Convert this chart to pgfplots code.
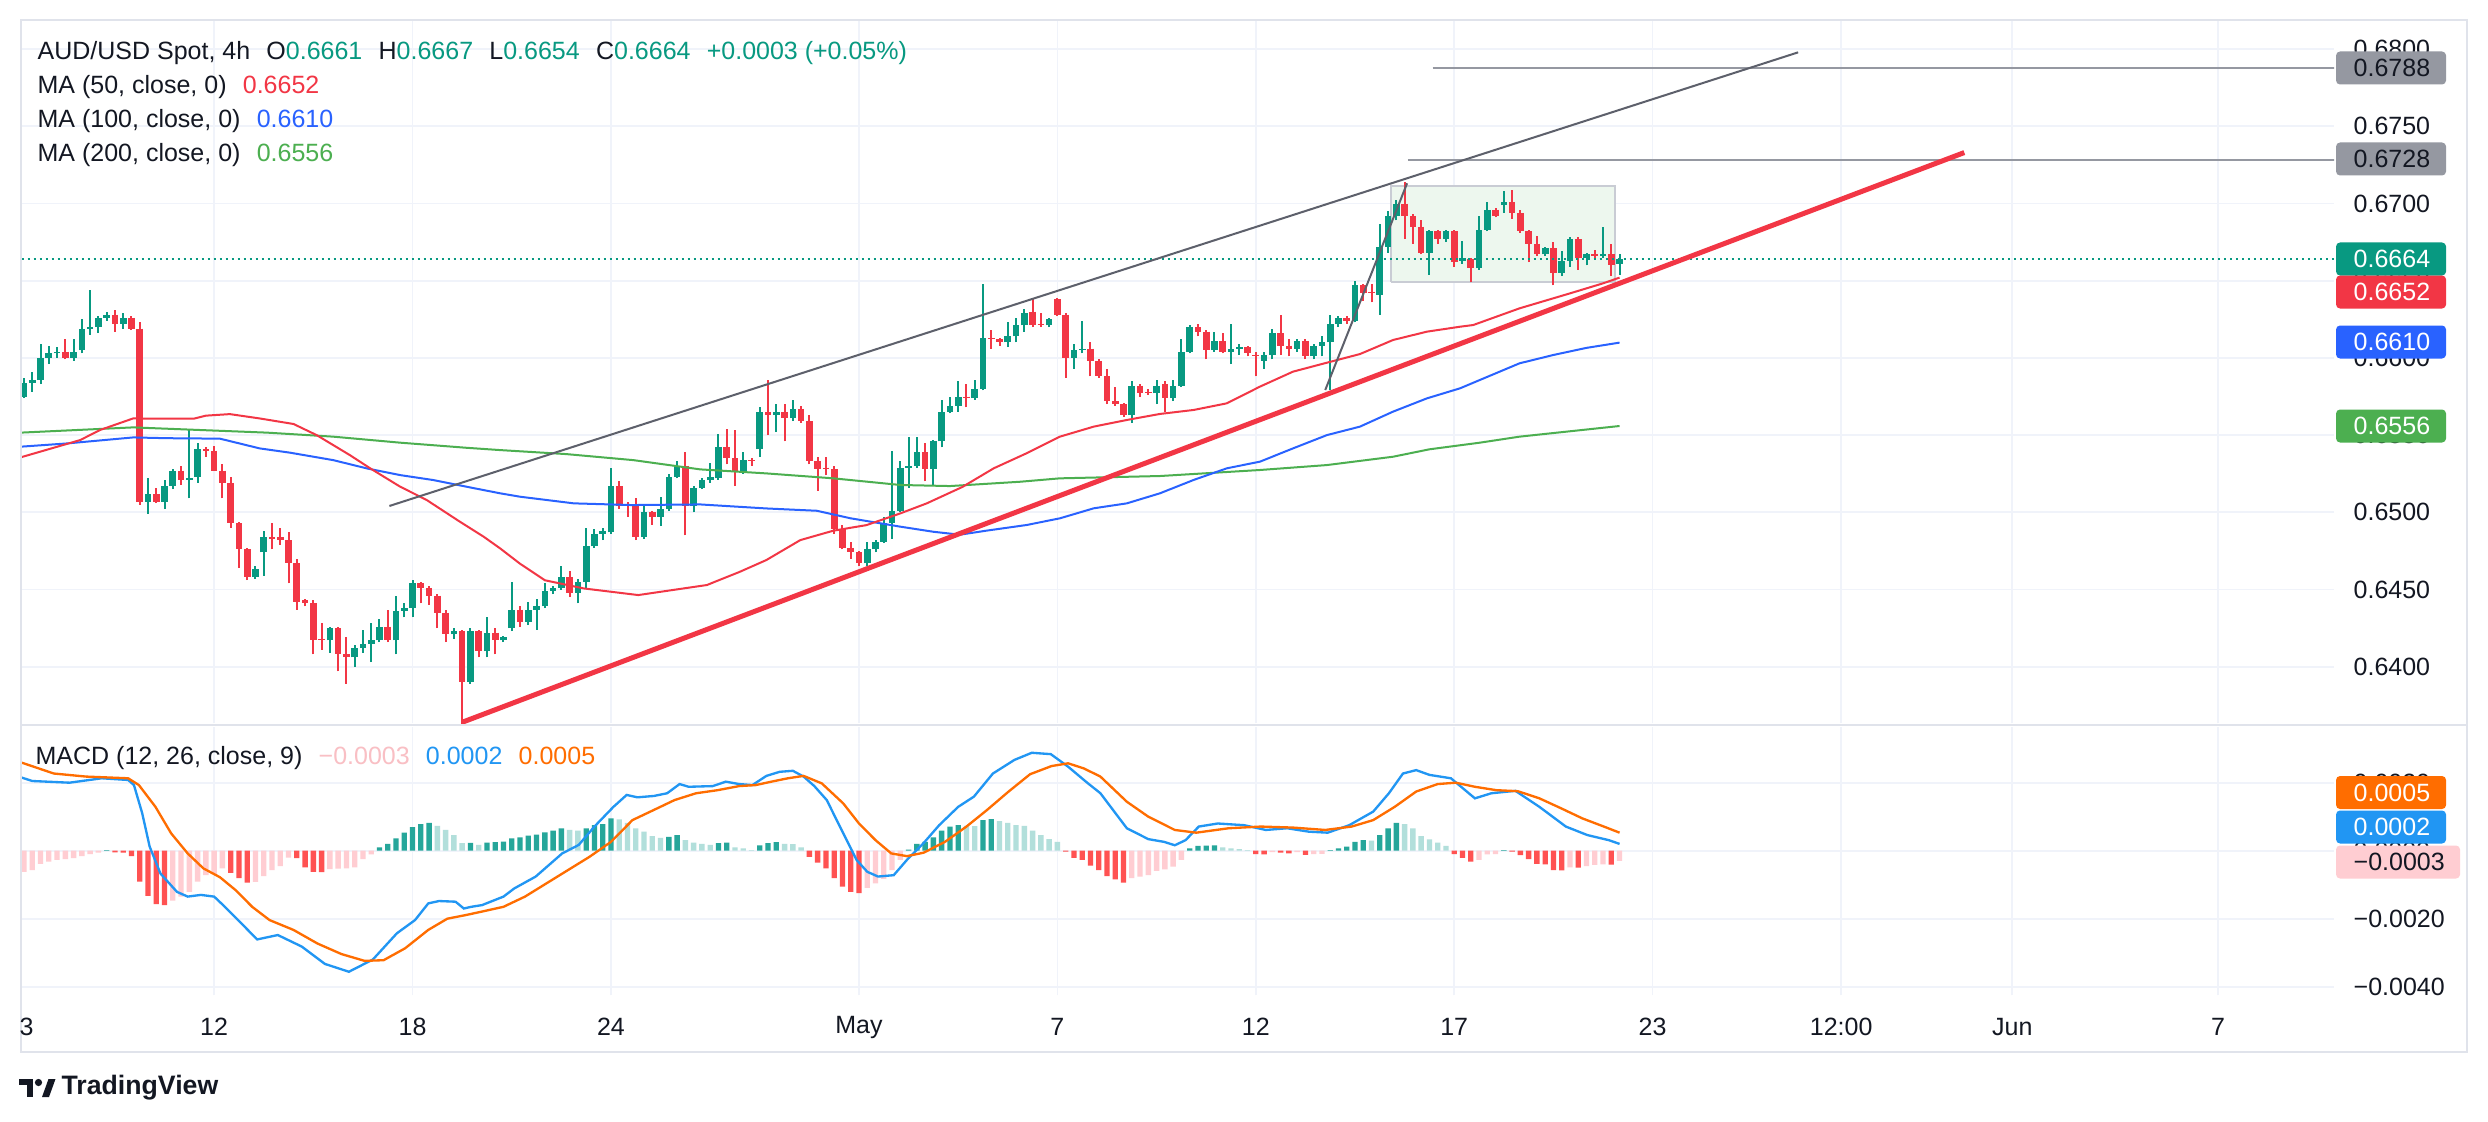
\documentclass[border=0pt]{standalone}
\usepackage{fontspec}
\setmainfont{Liberation Sans}
\usepackage{pgfplots}
\pgfplotsset{compat=1.18}
\usepackage{pgfplotstable}

\definecolor{up}{HTML}{089981}
\definecolor{dn}{HTML}{F23645}
\definecolor{ma50}{HTML}{F23645}
\definecolor{ma100}{HTML}{2962FF}
\definecolor{ma200}{HTML}{4CAF50}
\definecolor{gridc}{HTML}{F0F3FA}
\definecolor{framec}{HTML}{E0E3EB}
\definecolor{txt}{HTML}{131722}
\definecolor{graylbl}{HTML}{9598A1}
\definecolor{chan}{HTML}{5D606B}
\definecolor{macdc}{HTML}{2196F3}
\definecolor{sigc}{HTML}{FF6D00}
\definecolor{hgA}{HTML}{26A69A}
\definecolor{hgB}{HTML}{B2DFDB}
\definecolor{hrA}{HTML}{FF5252}
\definecolor{hrB}{HTML}{FFCDD2}
\definecolor{pinktxt}{HTML}{F9BFC4}
\definecolor{rectfill}{HTML}{EDF7EE}
\definecolor{rectdraw}{HTML}{C9CCD4}

\newcommand\fs{\fontsize{7.5}{9}\selectfont}

\pgfplotstableread{
n o h l c
0 0.6575 0.6587 0.6574 0.6584
1 0.6584 0.6591 0.6578 0.6586
2 0.6586 0.6609 0.6583 0.6600
3 0.6600 0.6608 0.6596 0.6603
4 0.6603 0.6607 0.6600 0.6604
5 0.6604 0.6612 0.6599 0.6600
6 0.6600 0.6612 0.6598 0.6604
7 0.6605 0.6625 0.6603 0.6619
8 0.6619 0.6644 0.6615 0.6620
9 0.6620 0.6627 0.6616 0.6626
10 0.6626 0.6630 0.6624 0.6628
11 0.6628 0.6631 0.6617 0.6622
12 0.6622 0.6629 0.6619 0.6626
13 0.6626 0.6627 0.6618 0.6619
14 0.6619 0.6623 0.6505 0.6507
15 0.6507 0.6522 0.6499 0.6512
16 0.6512 0.6516 0.6506 0.6507
17 0.6507 0.6521 0.6502 0.6517
18 0.6517 0.6528 0.6515 0.6527
19 0.6527 0.6530 0.6518 0.6521
20 0.6521 0.6553 0.6509 0.6522
21 0.6523 0.6545 0.6519 0.6541
22 0.6541 0.6542 0.6536 0.6540
23 0.6540 0.6543 0.6527 0.6527
24 0.6527 0.6531 0.6509 0.6519
25 0.6519 0.6523 0.6490 0.6493
26 0.6493 0.6494 0.6464 0.6476
27 0.6476 0.6477 0.6456 0.6458
28 0.6458 0.6465 0.6457 0.6463
29 0.6474 0.6488 0.6459 0.6484
30 0.6484 0.6493 0.6476 0.6483
31 0.6484 0.6490 0.6479 0.6482
32 0.6482 0.6487 0.6454 0.6467
33 0.6467 0.6470 0.6437 0.6442
34 0.6443 0.6444 0.6439 0.6441
35 0.6441 0.6443 0.6408 0.6417
36 0.6418 0.6428 0.6411 0.6417
37 0.6417 0.6426 0.6409 0.6425
38 0.6425 0.6426 0.6397 0.6408
39 0.6408 0.6419 0.6389 0.6406
40 0.6406 0.6414 0.6400 0.6412
41 0.6412 0.6424 0.6409 0.6415
42 0.6415 0.6428 0.6403 0.6417
43 0.6417 0.6431 0.6416 0.6426
44 0.6426 0.6437 0.6416 0.6417
45 0.6417 0.6446 0.6408 0.6436
46 0.6436 0.6441 0.6432 0.6438
47 0.6438 0.6456 0.6432 0.6454
48 0.6454 0.6455 0.6441 0.6451
49 0.6451 0.6452 0.6440 0.6446
50 0.6446 0.6447 0.6425 0.6435
51 0.6435 0.6437 0.6416 0.6421
52 0.6421 0.6425 0.6418 0.6423
53 0.6423 0.6424 0.6363 0.6390
54 0.6390 0.6425 0.6389 0.6423
55 0.6423 0.6424 0.6406 0.6410
56 0.6410 0.6432 0.6406 0.6422
57 0.6422 0.6425 0.6408 0.6417
58 0.6417 0.6420 0.6416 0.6419
59 0.6425 0.6455 0.6423 0.6437
60 0.6437 0.6439 0.6426 0.6429
61 0.6429 0.6442 0.6427 0.6437
62 0.6437 0.6444 0.6424 0.6439
63 0.6439 0.6454 0.6438 0.6449
64 0.6449 0.6452 0.6447 0.6451
65 0.6451 0.6465 0.6450 0.6458
66 0.6458 0.6462 0.6445 0.6448
67 0.6448 0.6457 0.6441 0.6455
68 0.6455 0.6490 0.6451 0.6478
69 0.6478 0.6489 0.6477 0.6486
70 0.6486 0.6490 0.6482 0.6488
71 0.6487 0.6529 0.6486 0.6517
72 0.6517 0.6520 0.6502 0.6504
73 0.6505 0.6507 0.6497 0.6504
74 0.6504 0.6509 0.6482 0.6484
75 0.6484 0.6504 0.6483 0.6500
76 0.6500 0.6501 0.6492 0.6497
77 0.6497 0.6510 0.6491 0.6502
78 0.6502 0.6525 0.6501 0.6523
79 0.6523 0.6533 0.6522 0.6530
80 0.6530 0.6539 0.6485 0.6504
81 0.6504 0.6517 0.6500 0.6516
82 0.6516 0.6522 0.6515 0.6521
83 0.6521 0.6532 0.6519 0.6523
84 0.6522 0.6551 0.6521 0.6542
85 0.6542 0.6554 0.6531 0.6535
86 0.6535 0.6553 0.6517 0.6526
87 0.6526 0.6539 0.6525 0.6534
88 0.6534 0.6535 0.6530 0.6533
89 0.6541 0.6568 0.6536 0.6565
90 0.6565 0.6586 0.6550 0.6563
91 0.6563 0.6570 0.6552 0.6565
92 0.6565 0.6570 0.6546 0.6561
93 0.6561 0.6573 0.6559 0.6567
94 0.6567 0.6569 0.6558 0.6559
95 0.6559 0.6563 0.6531 0.6533
96 0.6533 0.6536 0.6514 0.6528
97 0.6529 0.6536 0.6524 0.6528
98 0.6528 0.6530 0.6486 0.6489
99 0.6489 0.6492 0.6476 0.6477
100 0.6477 0.6481 0.6470 0.6474
101 0.6474 0.6475 0.6465 0.6467
102 0.6467 0.6481 0.6465 0.6476
103 0.6476 0.6482 0.6474 0.6481
104 0.6481 0.6497 0.6480 0.6493
105 0.6493 0.6540 0.6483 0.6501
106 0.6501 0.6533 0.6500 0.6529
107 0.6529 0.6549 0.6516 0.6530
108 0.6530 0.6549 0.6529 0.6539
109 0.6539 0.6545 0.6520 0.6528
110 0.6528 0.6547 0.6517 0.6546
111 0.6546 0.6573 0.6542 0.6565
112 0.6565 0.6575 0.6564 0.6569
113 0.6569 0.6585 0.6565 0.6575
114 0.6575 0.6583 0.6568 0.6574
115 0.6574 0.6586 0.6573 0.6580
116 0.6580 0.6648 0.6579 0.6613
117 0.6613 0.6618 0.6606 0.6612
118 0.6612 0.6613 0.6608 0.6610
119 0.6610 0.6623 0.6607 0.6614
120 0.6614 0.6626 0.6610 0.6621
121 0.6621 0.6632 0.6617 0.6629
122 0.6630 0.6638 0.6620 0.6621
123 0.6622 0.6629 0.6620 0.6621
124 0.6621 0.6626 0.6620 0.6625
125 0.6638 0.6639 0.6627 0.6628
126 0.6628 0.6629 0.6587 0.6600
127 0.6600 0.6609 0.6593 0.6605
128 0.6605 0.6624 0.6603 0.6606
129 0.6606 0.6610 0.6588 0.6598
130 0.6598 0.6599 0.6587 0.6588
131 0.6588 0.6593 0.6570 0.6572
132 0.6572 0.6581 0.6569 0.6570
133 0.6570 0.6571 0.6562 0.6563
134 0.6563 0.6585 0.6558 0.6582
135 0.6582 0.6583 0.6575 0.6577
136 0.6578 0.6580 0.6576 0.6577
137 0.6577 0.6586 0.6570 0.6582
138 0.6583 0.6585 0.6565 0.6574
139 0.6574 0.6586 0.6572 0.6582
140 0.6582 0.6612 0.6581 0.6604
141 0.6604 0.6621 0.6603 0.6620
142 0.6620 0.6622 0.6614 0.6617
143 0.6617 0.6618 0.6599 0.6605
144 0.6605 0.6617 0.6604 0.6611
145 0.6611 0.6616 0.6603 0.6604
146 0.6604 0.6622 0.6596 0.6606
147 0.6606 0.6609 0.6602 0.6607
148 0.6607 0.6608 0.6601 0.6603
149 0.6602 0.6604 0.6588 0.6601
150 0.6598 0.6604 0.6593 0.6602
151 0.6602 0.6619 0.6599 0.6616
152 0.6616 0.6628 0.6602 0.6608
153 0.6608 0.6612 0.6601 0.6606
154 0.6606 0.6612 0.6604 0.6611
155 0.6611 0.6612 0.6599 0.6601
156 0.6601 0.6609 0.6599 0.6608
157 0.6608 0.6614 0.6601 0.6610
158 0.6610 0.6628 0.6579 0.6622
159 0.6622 0.6627 0.6620 0.6626
160 0.6626 0.6627 0.6622 0.6624
161 0.6624 0.6650 0.6623 0.6647
162 0.6647 0.6648 0.6637 0.6642
163 0.6643 0.6648 0.6636 0.6642
164 0.6641 0.6687 0.6628 0.6672
165 0.6672 0.6695 0.6668 0.6692
166 0.6692 0.6702 0.6689 0.6700
167 0.6700 0.6714 0.6677 0.6692
168 0.6692 0.6693 0.6674 0.6685
169 0.6685 0.6689 0.6667 0.6668
170 0.6668 0.6683 0.6654 0.6682
171 0.6682 0.6683 0.6674 0.6677
172 0.6677 0.6683 0.6675 0.6682
173 0.6682 0.6683 0.6659 0.6662
174 0.6663 0.6676 0.6661 0.6665
175 0.6664 0.6665 0.6649 0.6658
176 0.6658 0.6692 0.6657 0.6683
177 0.6683 0.6701 0.6682 0.6696
178 0.6696 0.6697 0.6691 0.6692
179 0.6699 0.6708 0.6694 0.6701
180 0.6701 0.6709 0.6690 0.6694
181 0.6694 0.6696 0.6681 0.6682
182 0.6682 0.6683 0.6662 0.6674
183 0.6674 0.6679 0.6666 0.6667
184 0.6667 0.6672 0.6666 0.6671
185 0.6671 0.6675 0.6647 0.6655
186 0.6655 0.6669 0.6653 0.6663
187 0.6663 0.6678 0.6659 0.6677
188 0.6677 0.6678 0.6657 0.6665
189 0.6665 0.6668 0.6660 0.6667
190 0.6667 0.6670 0.6664 0.6666
191 0.6666 0.6685 0.6665 0.6667
192 0.6667 0.6674 0.6653 0.6660
193 0.6661 0.6667 0.6654 0.6664
}\candles

\pgfplotstableread{
n h k
0 -0.00062 4
1 -0.00057 4
2 -0.00039 4
3 -0.00032 4
4 -0.00027 4
5 -0.00025 4
6 -0.00022 4
7 -0.00016 4
8 -0.00010 4
9 -0.00006 4
10 0.00002 1
11 -0.00005 3
12 -0.00006 3
13 -0.00016 3
14 -0.00091 3
15 -0.00133 3
16 -0.00157 3
17 -0.00160 3
18 -0.00147 4
19 -0.00135 4
20 -0.00121 4
21 -0.00091 4
22 -0.00072 4
23 -0.00069 4
24 -0.00052 4
25 -0.00065 3
26 -0.00081 3
27 -0.00094 3
28 -0.00092 4
29 -0.00075 4
30 -0.00057 4
31 -0.00045 4
32 -0.00020 4
33 -0.00022 3
34 -0.00049 3
35 -0.00062 3
36 -0.00063 3
37 -0.00054 4
38 -0.00053 4
39 -0.00052 4
40 -0.00049 4
41 -0.00025 4
42 -0.00011 4
43 0.00010 1
44 0.00020 1
45 0.00036 1
46 0.00053 1
47 0.00069 1
48 0.00078 1
49 0.00082 1
50 0.00073 2
51 0.00061 2
52 0.00046 2
53 0.00022 2
54 0.00023 1
55 0.00017 2
56 0.00024 1
57 0.00025 1
58 0.00027 1
59 0.00036 1
60 0.00039 1
61 0.00044 1
62 0.00047 1
63 0.00054 1
64 0.00059 1
65 0.00066 1
66 0.00061 2
67 0.00059 2
68 0.00066 1
69 0.00075 1
70 0.00078 1
71 0.00095 1
72 0.00092 2
73 0.00082 2
74 0.00066 2
75 0.00056 2
76 0.00043 2
77 0.00038 2
78 0.00041 1
79 0.00046 1
80 0.00031 2
81 0.00024 2
82 0.00020 2
83 0.00017 2
84 0.00022 1
85 0.00024 1
86 0.00010 2
87 0.00007 2
88 0.00002 2
89 0.00016 1
90 0.00022 1
91 0.00025 1
92 0.00020 2
93 0.00019 2
94 0.00010 2
95 -0.00018 3
96 -0.00035 3
97 -0.00052 3
98 -0.00081 3
99 -0.00106 3
100 -0.00121 3
101 -0.00125 3
102 -0.00109 4
103 -0.00096 4
104 -0.00083 4
105 -0.00057 4
106 -0.00027 4
107 0.00003 1
108 0.00020 1
109 0.00026 1
110 0.00039 1
111 0.00059 1
112 0.00071 1
113 0.00075 1
114 0.00073 2
115 0.00072 2
116 0.00090 1
117 0.00093 1
118 0.00087 2
119 0.00082 2
120 0.00075 2
121 0.00073 2
122 0.00059 2
123 0.00046 2
124 0.00034 2
125 0.00026 2
126 -0.00003 3
127 -0.00021 3
128 -0.00027 3
129 -0.00044 3
130 -0.00057 3
131 -0.00075 3
132 -0.00084 3
133 -0.00094 3
134 -0.00081 4
135 -0.00076 4
136 -0.00072 4
137 -0.00059 4
138 -0.00055 4
139 -0.00047 4
140 -0.00027 4
141 0.00007 1
142 0.00014 1
143 0.00015 1
144 0.00016 1
145 0.00010 2
146 0.00007 2
147 0.00005 2
148 0.00002 2
149 -0.00010 3
150 -0.00011 3
151 -0.00004 4
152 -0.00006 3
153 -0.00008 3
154 -0.00004 4
155 -0.00012 3
156 -0.00010 4
157 -0.00009 4
158 0.00002 1
159 0.00007 1
160 0.00012 1
161 0.00026 1
162 0.00031 1
163 0.00030 2
164 0.00046 1
165 0.00066 1
166 0.00082 1
167 0.00078 2
168 0.00066 2
169 0.00043 2
170 0.00033 2
171 0.00024 2
172 0.00014 2
173 -0.00010 3
174 -0.00021 3
175 -0.00032 3
176 -0.00027 4
177 -0.00011 4
178 -0.00010 4
179 0.00002 1
180 -0.00003 3
181 -0.00013 3
182 -0.00025 3
183 -0.00039 3
184 -0.00040 3
185 -0.00057 3
186 -0.00058 3
187 -0.00049 4
188 -0.00050 3
189 -0.00045 4
190 -0.00042 4
191 -0.00040 4
192 -0.00041 3
193 -0.00030 4
}\hist

\pgfplotsset{
  tvaxis/.style={
    scale only axis, width=693.9pt,
    xmin=-0.363, xmax=279.42,
    axis line style={draw=none},
    major tick length=0pt, tick style={draw=none},
    xtick={23,47,71,101,125,149,173,197,219.8,240.5,265.4},
    grid=major, major grid style={gridc, line width=0.5pt},
    ticklabel style={font=\fs, text=txt},
    yticklabel pos=right,
    yticklabel style={anchor=west, inner sep=0pt, xshift=5.7pt},
    scaled y ticks=false, scaled x ticks=false,
    clip=true,
  }
}

\begin{document}
\begin{tikzpicture}
\path[use as bounding box, fill=white] (0,0) rectangle (746.4pt,-336.6pt);

% ---------------- price panel ----------------
\begin{axis}[tvaxis,
  at={(6.3pt,-216.9pt)}, anchor=south west, height=210.9pt,
  ymin=0.636354, ymax=0.681885,
  xticklabels={},
  ytick={0.640,0.645,0.650,0.655,0.660,0.665,0.670,0.675,0.680},
  yticklabels={0.6400,0.6450,0.6500,0.6550,0.6600,0.6650,0.6700,0.6750,0.6800},
]
% rectangle drawing
\addplot[fill=rectfill, draw=rectdraw, line width=0.6pt] coordinates {(165.3,0.66492) (192.5,0.66492) (192.5,0.67115) (165.3,0.67115) (165.3,0.66492)};

% candles: wicks
\addplot[up, line width=0.6pt, quiver={u=0, v=\thisrow{h}-\thisrow{l}},
  restrict expr to domain={\thisrow{c}-\thisrow{o}}{0:1}] table[x=n, y=l] {\candles};
\addplot[dn, line width=0.6pt, quiver={u=0, v=\thisrow{h}-\thisrow{l}},
  restrict expr to domain={\thisrow{c}-\thisrow{o}}{-1:-0.00001}] table[x=n, y=l] {\candles};
% candles: bodies
\addplot[up, line width=2pt, quiver={u=0, v=\thisrow{c}-\thisrow{o}},
  restrict expr to domain={\thisrow{c}-\thisrow{o}}{0:1}] table[x=n, y=o] {\candles};
\addplot[dn, line width=2pt, quiver={u=0, v=\thisrow{c}-\thisrow{o}},
  restrict expr to domain={\thisrow{c}-\thisrow{o}}{-1:-0.00001}] table[x=n, y=o] {\candles};

% last price dotted line
\addplot[up, line width=0.6pt, dash pattern=on 0.6pt off 1.2pt] coordinates {(-1,0.6664) (281,0.6664)};

% moving averages
\addplot[ma200, line width=0.6pt] coordinates {(-0.4,0.65516) (13.2,0.65550) (21.3,0.65533) (29.4,0.65516) (37.4,0.65490) (45.5,0.65451) (53.5,0.65418) (57.6,0.65403) (65.6,0.65377) (73.7,0.65338) (81.8,0.65278) (89.8,0.65252) (97.9,0.65220) (106,0.65177) (112,0.65170) (120.5,0.65198) (125.3,0.65220) (137.4,0.65235) (149.5,0.65274) (157.6,0.65306) (165.6,0.65360) (170,0.65408) (176.1,0.65451) (180.9,0.65490) (193,0.65559)};
\addplot[ma100, line width=0.6pt] coordinates {(-0.4,0.65425) (5.2,0.65446) (13.2,0.65485) (17.3,0.65480) (23.7,0.65477) (28.5,0.65414) (32.2,0.65386) (37.4,0.65338) (41.5,0.65284) (45.5,0.65241) (49.5,0.65209) (53.5,0.65166) (57.6,0.65123) (60,0.65101) (66.5,0.65058) (73.5,0.65047) (81.8,0.65051) (89.8,0.65025) (95.9,0.65010) (100,0.64961) (106,0.64907) (110,0.64874) (113.2,0.64855) (116.4,0.64881) (121.3,0.64918) (125.3,0.64961) (129.4,0.65026) (133.4,0.65058) (137.4,0.65123) (141.5,0.65210) (145.5,0.65285) (149.5,0.65328) (151.5,0.65371) (153.5,0.65414) (157.6,0.65500) (161.6,0.65555) (165.6,0.65652) (169.7,0.65738) (173.7,0.65803) (176.1,0.65857) (180.9,0.65965) (185,0.66019) (189,0.66065) (193,0.66099)};
\addplot[ma50, line width=0.6pt] coordinates {(-0.4,0.65356) (6.8,0.65468) (9.2,0.65533) (13.2,0.65608) (17.3,0.65606) (20.5,0.65606) (22,0.65626) (24.9,0.65636) (28.5,0.65608) (32.6,0.65572) (35.4,0.65500) (39.4,0.65371) (41.9,0.65284) (45.5,0.65166) (48.7,0.65080) (52.7,0.64940) (55.6,0.64842) (57.6,0.64766) (60,0.64667) (63,0.64560) (67.7,0.64507) (74.3,0.64464) (78.5,0.64497) (82.6,0.64529) (86.6,0.64615) (89.8,0.64691) (93.9,0.64820) (97.9,0.64881) (101.9,0.64917) (106,0.64993) (109.2,0.65058) (113.5,0.65164) (117.3,0.65285) (121.3,0.65383) (125.3,0.65490) (129.4,0.65555) (133.4,0.65598) (137.4,0.65637) (141.5,0.65663) (145.5,0.65706) (149.5,0.65814) (153.5,0.65911) (157.6,0.65969) (161.6,0.66025) (165.6,0.66116) (169.7,0.66170) (173.7,0.66202) (175.3,0.66213) (180.9,0.66321) (187,0.66418) (191,0.66483) (193,0.66520)};

% drawings
\addplot[graylbl, line width=0.6pt] coordinates {(170.4,0.6788) (290,0.6788)};
\addplot[graylbl, line width=0.6pt] coordinates {(167.4,0.6728) (290,0.6728)};
\addplot[chan, line width=0.6pt] coordinates {(44.2,0.65041) (214.6,0.67979)};
\addplot[chan, line width=0.6pt] coordinates {(157.4,0.65792) (167.3,0.67131)};
\addplot[dn, line width=1.5pt] coordinates {(53,0.6364) (234.7,0.6733)};
\end{axis}

% ---------------- MACD panel ----------------
\begin{axis}[tvaxis,
  at={(6.3pt,-298.5pt)}, anchor=south west, height=80.4pt,
  ymin=-0.004244, ymax=0.003638,
  xticklabels={12,18,24,May,7,12,17,23,12:00,Jun,7},
  xticklabel style={anchor=center, yshift=-9.6pt},
  ytick={-0.004,-0.002,0,0.002},
  yticklabels={−0.0040,−0.0020,0.0000,0.0020},
]
\addplot[ybar, bar width=1.6pt, bar shift=0pt, fill=hgA, draw=none,
  restrict expr to domain={\thisrow{k}}{0.5:1.5}] table[x=n, y=h] {\hist};
\addplot[ybar, bar width=1.6pt, bar shift=0pt, fill=hgB, draw=none,
  restrict expr to domain={\thisrow{k}}{1.5:2.5}] table[x=n, y=h] {\hist};
\addplot[ybar, bar width=1.6pt, bar shift=0pt, fill=hrA, draw=none,
  restrict expr to domain={\thisrow{k}}{2.5:3.5}] table[x=n, y=h] {\hist};
\addplot[ybar, bar width=1.6pt, bar shift=0pt, fill=hrB, draw=none,
  restrict expr to domain={\thisrow{k}}{3.5:4.5}] table[x=n, y=h] {\hist};

\addplot[macdc, line width=0.7pt] coordinates {(-0.4,0.00216) (1,0.00205) (5.5,0.00200) (9.4,0.00213) (12.6,0.00208) (13.3,0.00193) (14.3,0.00110) (15.2,0.00012) (16.5,-0.00067) (18.5,-0.00121) (19.8,-0.00135) (21.4,-0.00130) (23,-0.00135) (24.3,-0.00165) (25.9,-0.00204) (28.2,-0.00261) (30.7,-0.00248) (33.6,-0.00282) (36.4,-0.00333) (39.3,-0.00356) (42.2,-0.00320) (45.1,-0.00243) (47.3,-0.00204) (48.9,-0.00155) (50.2,-0.00148) (52.2,-0.00150) (53.2,-0.00170) (54.1,-0.00165) (55.4,-0.00160) (58,-0.00135) (59.3,-0.00111) (61.9,-0.00076) (65.1,-0.00008) (67.1,0.00017) (69,0.00071) (71.3,0.00129) (72.9,0.00164) (74.2,0.00157) (76.2,0.00161) (77.8,0.00169) (79.3,0.00196) (80.4,0.00188) (83.3,0.00190) (84.9,0.00203) (86.5,0.00196) (88.1,0.00193) (89.8,0.00220) (91.4,0.00232) (93,0.00235) (94.3,0.00218) (95.6,0.00190) (97.1,0.00149) (99.1,0.00051) (100.7,-0.00027) (102,-0.00062) (103.3,-0.00076) (105.2,-0.00072) (106.8,-0.00027) (108.8,0.00022) (110.7,0.00075) (113,0.00129) (114.9,0.00159) (117.2,0.00227) (119.8,0.00267) (121.9,0.00288) (124.2,0.00284) (126.3,0.00247) (128.6,0.00200) (130.2,0.00169) (133.4,0.00066) (136,0.00034) (137.9,0.00026) (139.2,0.00016) (140.5,0.00031) (142.1,0.00071) (144.4,0.00080) (147.6,0.00075) (150.2,0.00061) (152.8,0.00066) (155.4,0.00056) (157.7,0.00053) (160.3,0.00075) (163.2,0.00115) (165.1,0.00169) (166.8,0.00227) (168.4,0.00237) (170,0.00223) (172.6,0.00213) (175.5,0.00154) (177.5,0.00169) (180.4,0.00176) (183.3,0.00129) (186.5,0.00071) (189.1,0.00046) (191.7,0.00031) (193,0.00020)};
\addplot[sigc, line width=0.7pt] coordinates {(-0.4,0.00260) (3.6,0.00227) (7.5,0.00218) (12.6,0.00213) (13.9,0.00193) (15.9,0.00129) (17.8,0.00051) (19.8,-0.00008) (21.7,-0.00052) (23.7,-0.00078) (25.6,-0.00116) (27.6,-0.00165) (29.7,-0.00204) (32.6,-0.00233) (35.5,-0.00273) (38.4,-0.00304) (41.2,-0.00324) (43.5,-0.00322) (46.1,-0.00287) (48.9,-0.00233) (51.2,-0.00200) (53.5,-0.00189) (55.4,-0.00179) (58,-0.00165) (60.6,-0.00135) (63.2,-0.00096) (65.8,-0.00057) (68.4,-0.00018) (71,0.00026) (73.6,0.00090) (76.2,0.00120) (78.7,0.00149) (81.3,0.00169) (83.9,0.00178) (86.5,0.00190) (88.5,0.00193) (90.4,0.00203) (92.4,0.00213) (94.3,0.00220) (96.5,0.00198) (99.1,0.00139) (101,0.00080) (103,0.00031) (104.9,-0.00008) (106.8,-0.00016) (108.8,-0.00006) (111.4,0.00026) (114,0.00071) (116.5,0.00120) (119.1,0.00174) (121.7,0.00225) (124.3,0.00249) (126.3,0.00257) (128.2,0.00242) (130.2,0.00218) (133.4,0.00144) (136,0.00100) (139.2,0.00061) (141.8,0.00053) (145.7,0.00066) (149.6,0.00071) (153.5,0.00068) (157.4,0.00061) (160.6,0.00071) (163.2,0.00090) (165.8,0.00129) (168.4,0.00174) (171,0.00196) (173.2,0.00200) (175.5,0.00188) (178.1,0.00178) (180.7,0.00175) (183.3,0.00154) (185.9,0.00125) (188.5,0.00095) (191.1,0.00071) (193,0.00053)};
\end{axis}

% ---------------- annotations in pixel units ----------------
\begin{scope}[x=0.3pt, y=-0.3pt]
  % frame
  \draw[framec, line width=0.6pt] (21,20) rectangle (2467,1052);
  \draw[framec, line width=0.8pt] (21,725) -- (2467,725);

  % legends
  \node[anchor=west, inner sep=0pt, font=\fs, text=txt] at (37,53) {AUD/USD Spot, 4h\hspace{0.65em}O\textcolor{up}{0.6661}\hspace{0.65em}H\textcolor{up}{0.6667}\hspace{0.65em}L\textcolor{up}{0.6654}\hspace{0.65em}C\textcolor{up}{0.6664}\hspace{0.65em}\textcolor{up}{+0.0003 (+0.05\%)}};
  \node[anchor=west, inner sep=0pt, font=\fs, text=txt] at (37,87) {MA (50, close, 0)\hspace{0.65em}\textcolor{ma50}{0.6652}};
  \node[anchor=west, inner sep=0pt, font=\fs, text=txt] at (37,121) {MA (100, close, 0)\hspace{0.65em}\textcolor{ma100}{0.6610}};
  \node[anchor=west, inner sep=0pt, font=\fs, text=txt] at (37,155) {MA (200, close, 0)\hspace{0.65em}\textcolor{ma200}{0.6556}};
  \node[anchor=west, inner sep=0pt, font=\fs, text=txt] at (35,758) {MACD (12, 26, close, 9)\hspace{0.65em}\textcolor{pinktxt}{−0.0003}\hspace{0.65em}\textcolor{macdc}{0.0002}\hspace{0.65em}\textcolor{sigc}{0.0005}};

  % partially visible first date label
  \node[anchor=west, inner sep=0pt, font=\fs, text=txt] at (19,1027) {3};

  % price scale labels
  \fill[graylbl, rounded corners=1.2pt] (2336,51.5) rectangle (2446,84.5);
  \node[anchor=west, inner sep=0pt, font=\fs, text=txt] at (2353,68) {0.6788};
  \fill[graylbl, rounded corners=1.2pt] (2336,142.5) rectangle (2446,175.5);
  \node[anchor=west, inner sep=0pt, font=\fs, text=txt] at (2353,159) {0.6728};
  \fill[up, rounded corners=1.2pt] (2336,242.5) rectangle (2446,275.5);
  \node[anchor=west, inner sep=0pt, font=\fs, text=white] at (2353,259) {0.6664};
  \fill[dn, rounded corners=1.2pt] (2336,275.5) rectangle (2446,308.5);
  \node[anchor=west, inner sep=0pt, font=\fs, text=white] at (2353,292) {0.6652};
  \fill[ma100, rounded corners=1.2pt] (2336,325.5) rectangle (2446,358.5);
  \node[anchor=west, inner sep=0pt, font=\fs, text=white] at (2353,342) {0.6610};
  \fill[ma200, rounded corners=1.2pt] (2336,409.5) rectangle (2446,442.5);
  \node[anchor=west, inner sep=0pt, font=\fs, text=white] at (2353,426) {0.6556};
  \fill[sigc, rounded corners=1.2pt] (2336,776) rectangle (2446,809);
  \node[anchor=west, inner sep=0pt, font=\fs, text=white] at (2353,792.5) {0.0005};
  \fill[macdc, rounded corners=1.2pt] (2336,810.5) rectangle (2446,843.5);
  \node[anchor=west, inner sep=0pt, font=\fs, text=white] at (2353,827) {0.0002};
  \fill[hrB, rounded corners=1.2pt] (2336,845.5) rectangle (2460,878.5);
  \node[anchor=west, inner sep=0pt, font=\fs, text=txt] at (2353,862) {−0.0003};

  % TradingView logo
  \fill[txt] (19,1079) rectangle (33,1085);
  \fill[txt] (27,1079) rectangle (33,1097);
  \fill[txt] (38.5,1082.5) circle (3.6);
  \fill[txt] (42,1097) -- (48.5,1079) -- (55.5,1079) -- (49,1097) -- cycle;
  \node[anchor=west, inner sep=0pt, font=\fontsize{8}{9.6}\selectfont\bfseries, text=txt] at (61,1088) {TradingView};
\end{scope}
\end{tikzpicture}
\end{document}
